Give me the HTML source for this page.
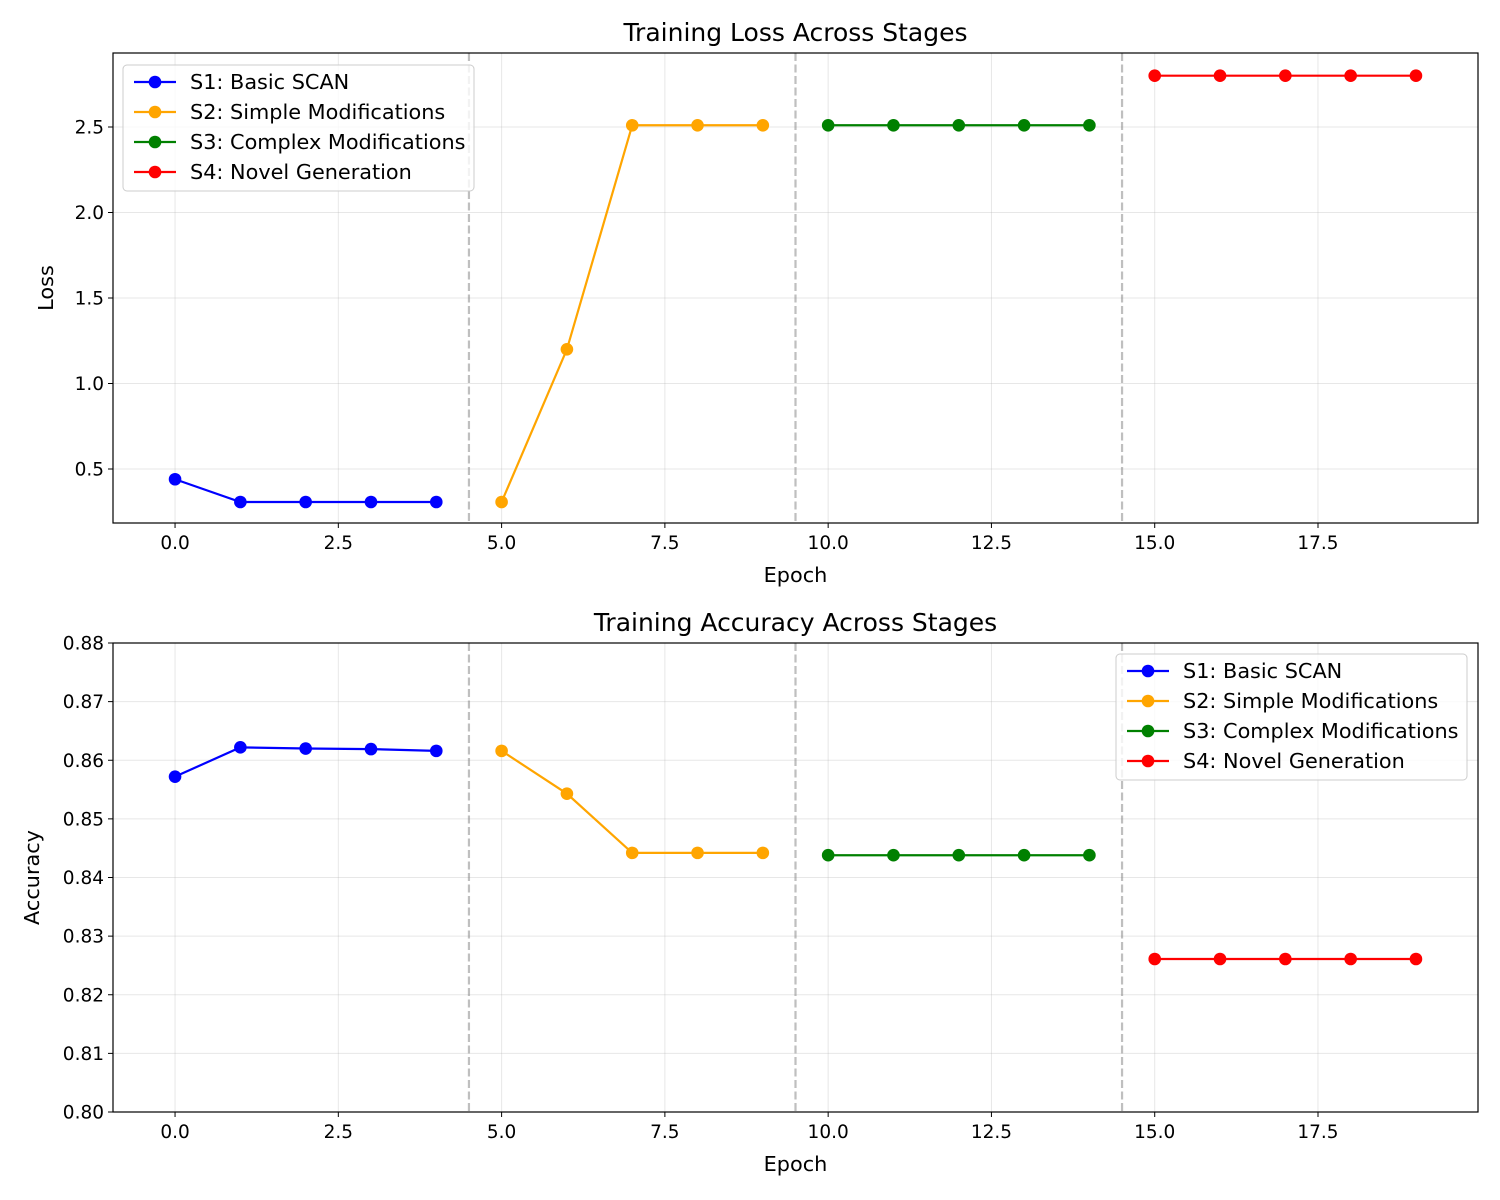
<!DOCTYPE html>
<html><head><meta charset="utf-8"><style>
body{margin:0;background:#fff}
svg{display:block;font-family:"DejaVu Sans","Liberation Sans",sans-serif}
</style></head><body>
<svg id="fig" width="1500" height="1200"></svg>
<script>
const epochs=[0,1,2,3,4,5,6,7,8,9,10,11,12,13,14,15,16,17,18,19];
const stageNames=["S1: Basic SCAN","S2: Simple Modifications","S3: Complex Modifications","S4: Novel Generation"];
const stageColors=["#0000ff","#ffa500","#008000","#ff0000"];
const lossS1=[0.44,0.307,0.307,0.307,0.307];
const lossS2=[0.307,1.20,2.51,2.51,2.51];
const lossS3=[2.51,2.51,2.51,2.51,2.51];
const lossS4=[2.80,2.80,2.80,2.80,2.80];
const accS1=[0.8572,0.8622,0.8620,0.8619,0.8616];
const accS2=[0.8616,0.8543,0.8442,0.8442,0.8442];
const accS3=[0.8438,0.8438,0.8438,0.8438,0.8438];
const accS4=[0.8261,0.8261,0.8261,0.8261,0.8261];
const stageBounds=[4.5,9.5,14.5];
const xTicks=[0,2.5,5,7.5,10,12.5,15,17.5];
const xTickLabels=["0.0","2.5","5.0","7.5","10.0","12.5","15.0","17.5"];
const lossTicks=[0.5,1.0,1.5,2.0,2.5];
const lossTickLabels=["0.5","1.0","1.5","2.0","2.5"];
const accTicks=[0.80,0.81,0.82,0.83,0.84,0.85,0.86,0.87,0.88];
const accTickLabels=["0.80","0.81","0.82","0.83","0.84","0.85","0.86","0.87","0.88"];

const NS="http://www.w3.org/2000/svg";
const svg=document.getElementById('fig');
function mk(tag,attrs,parent,text){const e=document.createElementNS(NS,tag);for(const k in attrs)e.setAttribute(k,attrs[k]);if(text!==undefined)e.textContent=text;(parent||svg).appendChild(e);return e;}

function panel(cfg){
  const L=113,R=1478,T=cfg.top,B=cfg.bottom;
  const g=mk('g',{});
  
  
  const xs=v=>L+(v-(-0.95))/(19.95-(-0.95))*(R-L);
  const ys=v=>B-(v-cfg.ymin)/(cfg.ymax-cfg.ymin)*(B-T);
  xTicks.forEach(t=>{const l=mk('line',{x1:xs(t),x2:xs(t),y1:T,y2:B,stroke:'#b0b0b0','stroke-opacity':0.3,'stroke-width':1},g);
    });
  cfg.yt.forEach(t=>{const l=mk('line',{x1:L,x2:R,y1:ys(t),y2:ys(t),stroke:'#b0b0b0','stroke-opacity':0.3,'stroke-width':1},g);
    });
  stageBounds.forEach(b=>{const l=mk('line',{x1:xs(b),x2:xs(b),y1:T,y2:B,stroke:'#808080','stroke-opacity':0.5,'stroke-width':2.2,'stroke-dasharray':'8,3.5'},g);
    });
  cfg.series.forEach((s,i)=>{
    const ep=epochs.slice(i*5,i*5+5);
    const pts=s.map((v,j)=>xs(ep[j])+','+ys(v)).join(' ');
    const pl=mk('polyline',{points:pts,fill:'none',stroke:stageColors[i],'stroke-width':2.2},g);
    
    s.forEach((v,j)=>{const c=mk('circle',{cx:xs(ep[j]),cy:ys(v),r:6.3,fill:stageColors[i]},g);
      });
  });
  const fr=mk('rect',{x:L,y:T,width:R-L,height:B-T,fill:'none',stroke:'#000','stroke-width':1.2},g);
  
  xTicks.forEach((t,i)=>{mk('line',{x1:xs(t),x2:xs(t),y1:B,y2:B+5,stroke:'#000'},g);
    const tx=mk('text',{x:xs(t),y:B+26,'text-anchor':'middle','font-size':18.5},g,xTickLabels[i]);
    });
  cfg.yt.forEach((t,i)=>{mk('line',{x1:L-5,x2:L,y1:ys(t),y2:ys(t),stroke:'#000'},g);
    const tx=mk('text',{x:L-9,y:ys(t)+6.5,'text-anchor':'end','font-size':18.5},g,cfg.ytl[i]);
    });
  const xl=mk('text',{x:(L+R)/2,y:B+59,'text-anchor':'middle','font-size':20.8},g,'Epoch');
  
  const yl=mk('text',{x:cfg.ylabX,y:(T+B)/2,'text-anchor':'middle','font-size':20.8,transform:`rotate(-90 ${cfg.ylabX} ${(T+B)/2})`},g,cfg.ylabel);
  
  const ti=mk('text',{x:(L+R)/2,y:T-12,'text-anchor':'middle','font-size':25},g,cfg.title);
  
  const lg=mk('g',{},g);
  
  mk('rect',{x:cfg.lx,y:cfg.ly,width:351,height:126,rx:4,fill:'#fff','fill-opacity':0.8,stroke:'#cccccc'},lg);
  stageNames.forEach((n,i)=>{const yy=cfg.ly+17+i*30;
    const e=mk('g',{},lg);
    
    mk('line',{x1:cfg.lx+11,x2:cfg.lx+53,y1:yy,y2:yy,stroke:stageColors[i],'stroke-width':2.2},e);
    mk('circle',{cx:cfg.lx+32,cy:yy,r:6.3,fill:stageColors[i]},e);
    mk('text',{x:cfg.lx+67,y:yy+7,'font-size':20.8},e,n);});
}
panel({name:'loss-panel',top:53,bottom:523,ymin:0.1842,ymax:2.9327,yt:lossTicks,ytl:lossTickLabels,
  series:[lossS1,lossS2,lossS3,lossS4],ylabel:'Loss',ylabX:53,title:'Training Loss Across Stages',lx:123,ly:65});
panel({name:'accuracy-panel',top:643,bottom:1112,ymin:0.80,ymax:0.88,yt:accTicks,ytl:accTickLabels,
  series:[accS1,accS2,accS3,accS4],ylabel:'Accuracy',ylabX:39,title:'Training Accuracy Across Stages',lx:1116,ly:654});
</script>
</body></html>
